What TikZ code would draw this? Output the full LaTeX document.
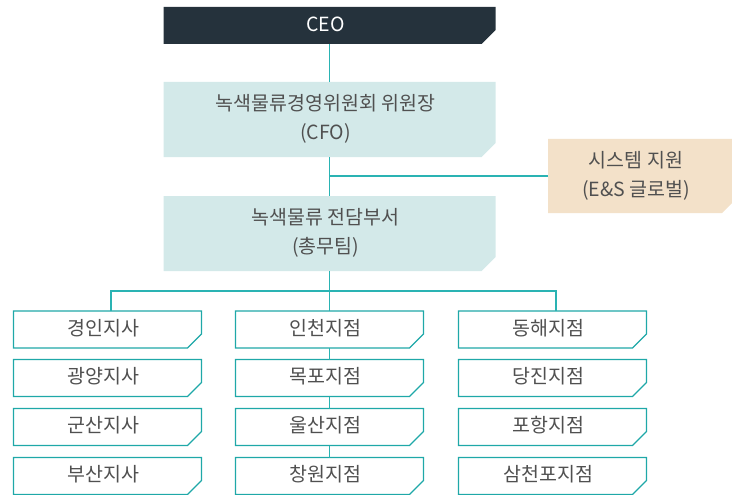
\documentclass[tikz,border=0pt]{standalone}
\usepackage{fontspec}
\setmainfont{Noto Sans CJK KR}
\usetikzlibrary{backgrounds}
\definecolor{ceoc}{HTML}{25323C}
\definecolor{lteal}{HTML}{D3E9E9}
\definecolor{beige}{HTML}{F3E1C9}
\definecolor{tealline}{HTML}{2AB3B3}
\definecolor{tealborder}{HTML}{1FA8A8}
\definecolor{txt}{HTML}{505050}
\newcommand{\ctx}[1]{\kern-8pt\begin{tabular}{@{}c@{}}#1\end{tabular}}
\newcommand{\chpath}[2]{(#1.north west) -- (#1.north east) -- ([yshift=#2pt]#1.south east) -- ([xshift=-#2pt]#1.south east) -- (#1.south west) -- cycle}
\begin{document}
\begin{tikzpicture}[x=1pt,y=-1pt,
  base/.style={rectangle, inner sep=0pt, outer sep=0pt,
    font=\fontsize{19.5}{29}\selectfont, text=txt},
  ceobox/.style={base, text=white, minimum width=332pt, minimum height=37pt},
  bigbox/.style={base, minimum width=332pt, minimum height=75pt},
  sysbox/.style={base, minimum width=184pt, minimum height=74pt},
  smallbox/.style={base, minimum width=188pt, minimum height=37pt},
  smallshape/.style={draw=tealborder, line width=1.4pt, fill=white, line join=miter},
  conn/.style={draw=tealline, line width=1.3pt}]
\useasboundingbox (0,0) rectangle (732,495);
\clip (0,0) rectangle (732,495);
\coordinate (bl) at (111,291);
\coordinate (br) at (556,291);
% nodes
\node[ceobox] (ceo) at (329.5,25.5) {\ctx{CEO}};
\node[bigbox] (cfo) at (329.5,119.5) {\ctx{녹색물류경영위원회 위원장\\(CFO)}};
\node[sysbox] (sys) at (640,176) {\ctx{시스템 지원\\(E\&S 글로벌)}};
\node[bigbox] (dept) at (329.5,233.5) {\ctx{녹색물류 전담부서\\(총무팀)}};
\node[smallbox] (l1) at (107.5,329.5) {\ctx{경인지사}};
\node[smallbox] (l2) at (107.5,378) {\ctx{광양지사}};
\node[smallbox] (l3) at (107.5,427) {\ctx{군산지사}};
\node[smallbox] (l4) at (107.5,476) {\ctx{부산지사}};
\node[smallbox] (m1) at (329.5,329.5) {\ctx{인천지점}};
\node[smallbox] (m2) at (329.5,378) {\ctx{목포지점}};
\node[smallbox] (m3) at (329.5,427) {\ctx{울산지점}};
\node[smallbox] (m4) at (329.5,476) {\ctx{창원지점}};
\node[smallbox] (r1) at (552.5,329.5) {\ctx{동해지점}};
\node[smallbox] (r2) at (552.5,378) {\ctx{당진지점}};
\node[smallbox] (r3) at (552.5,427) {\ctx{포항지점}};
\node[smallbox] (r4) at (552.5,476) {\ctx{삼천포지점}};
% box shapes behind the texts
\begin{scope}[on background layer]
  \fill[ceoc] \chpath{ceo}{14};
  \fill[lteal] \chpath{cfo}{14};
  \fill[lteal] \chpath{dept}{14};
  \fill[beige] \chpath{sys}{10};
  \foreach \n in {l1,l2,l3,l4,m1,m2,m3,m4,r1,r2,r3,r4}
    \path[smallshape] \chpath{\n}{14};
\end{scope}
% connectors
\draw[conn] (ceo) -- (cfo);
\draw[conn] (cfo) -- (dept);
\draw[conn] (sys.west) -- (sys.west -| cfo.south);
\draw[conn] (dept) -- (m1);
\draw[conn] (m1) -- (m2);
\draw[conn] (m2) -- (m3);
\draw[conn] (m3) -- (m4);
\draw[conn] (bl |- l1.north) -- (bl) -- (br) -- (br |- r1.north);
\end{tikzpicture}
\end{document}
